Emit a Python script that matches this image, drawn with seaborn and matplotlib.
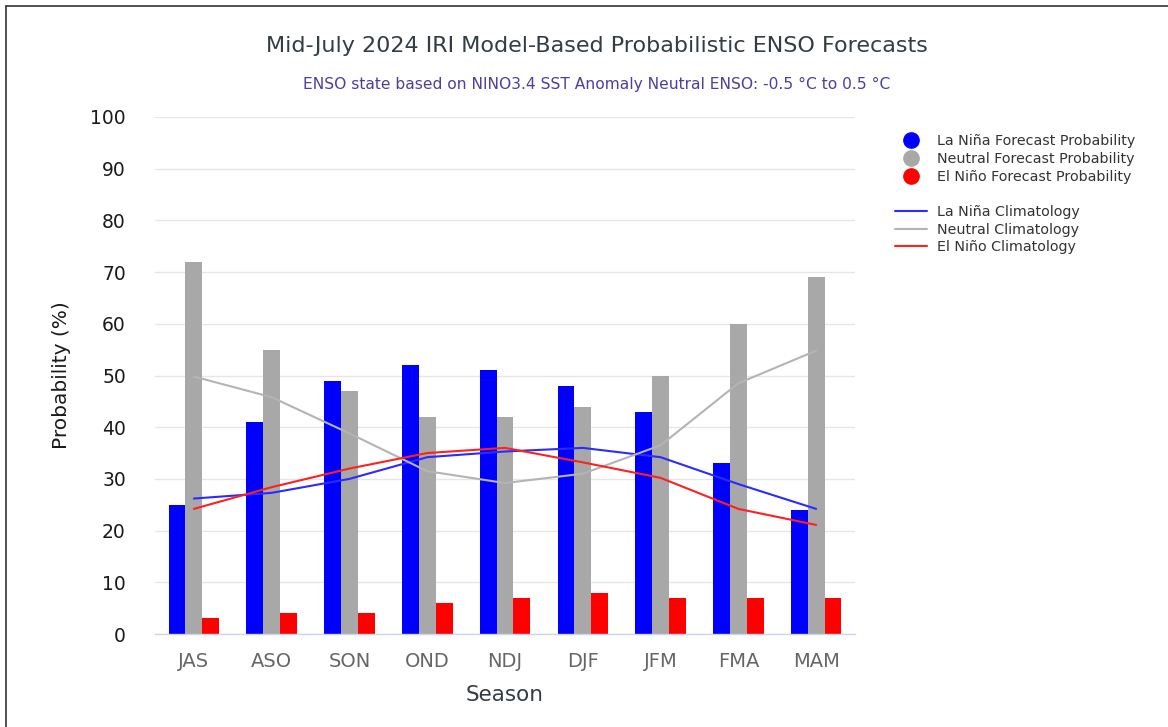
"""Mid-July 2024 IRI ENSO probabilistic forecast chart."""

import matplotlib
matplotlib.use("Agg")
import matplotlib.pyplot as plt
from matplotlib.lines import Line2D
import numpy as np
import pandas as pd
import seaborn as sns

seasons = ["JAS", "ASO", "SON", "OND", "NDJ", "DJF", "JFM", "FMA", "MAM"]
la_nina_prob = [25, 41, 49, 52, 51, 48, 43, 33, 24]
neutral_prob = [72, 55, 47, 42, 42, 44, 50, 60, 69]
el_nino_prob = [3, 4, 4, 6, 7, 8, 7, 7, 7]

la_nina_clim = [26.2, 27.3, 30.0, 34.2, 35.3, 36.0, 34.2, 29.0, 24.2]
neutral_clim = [49.8, 45.8, 38.8, 31.5, 29.2, 31.0, 36.5, 48.5, 54.8]
el_nino_clim = [24.2, 28.4, 32.0, 35.0, 36.0, 33.2, 30.2, 24.2, 21.1]

prob_names = ["La Niña Forecast Probability", "Neutral Forecast Probability", "El Niño Forecast Probability"]
clim_names = ["La Niña Climatology", "Neutral Climatology", "El Niño Climatology"]
bar_colors = ["#0000ff", "#a8a8a8", "#ff0000"]
line_colors = ["#2b2bff", "#b4b4b4", "#ff2020"]

bars = pd.DataFrame({
    "season": seasons * 3,
    "state": np.repeat(prob_names, len(seasons)),
    "prob": la_nina_prob + neutral_prob + el_nino_prob,
})

sns.set_style("white")
plt.rcParams["font.family"] = ["DejaVu Sans"]

fig = plt.figure(figsize=(11.68, 7.27), dpi=100)
ax = fig.add_axes([155 / 1168, 1 - 634 / 727, 700 / 1168, 517 / 727])

sns.barplot(data=bars, x="season", y="prob", hue="state", order=seasons, hue_order=prob_names,
            palette=bar_colors, saturation=1, width=0.65, linewidth=0, legend=False, ax=ax, zorder=2)

pos = np.arange(len(seasons))
for values, color in zip([la_nina_clim, neutral_clim, el_nino_clim], line_colors):
    sns.lineplot(x=pos, y=values, color=color, linewidth=1.5, ax=ax, zorder=3)

ax.set_xlim(-0.5, len(seasons) - 0.5)
ax.set_ylim(0, 100)
ax.set_yticks(range(0, 101, 10))
ax.grid(axis="y", color="#e6e6e6", linewidth=1)
ax.set_axisbelow(True)
for side in ["left", "right", "top"]:
    ax.spines[side].set_visible(False)
ax.spines["bottom"].set_color("#ccd6eb")
ax.spines["bottom"].set_linewidth(1)
ax.tick_params(axis="y", length=0, pad=21, labelsize=13.5, labelcolor="#1a1a1a")
ax.tick_params(axis="x", length=0, pad=13, labelsize=14, labelcolor="#666666")
ax.set_xlabel("Season", fontsize=15.5, color="#333d44", labelpad=10)
ax.set_ylabel("Probability (%)", fontsize=14.5, color="#1a1a1a", labelpad=14)

fig.text(0.511, 1 - 46 / 727, "Mid-July 2024 IRI Model-Based Probabilistic ENSO Forecasts",
         ha="center", va="center", fontsize=16, color="#333d44")
fig.text(0.511, 1 - 84 / 727, "ENSO state based on NINO3.4 SST Anomaly Neutral ENSO: -0.5 °C to 0.5 °C",
         ha="center", va="center", fontsize=11.2, color="#4d3f9e")

handles = [Line2D([], [], marker="o", linestyle="none", markersize=11, color=c) for c in bar_colors]
handles.append(Line2D([], [], linestyle="none"))
handles += [Line2D([], [], color=c, linewidth=1.5) for c in line_colors]
labels = prob_names + [""] + clim_names
fig.legend(handles, labels, loc="upper left", bbox_to_anchor=(888 / 1168, 1 - 127 / 727),
           frameon=False, fontsize=10.3, labelspacing=0.26, handlelength=2.2, handletextpad=0.7,
           borderpad=0, labelcolor="#333333")

fig.add_artist(Line2D([6 / 1168, 1], [1 - 6 / 727, 1 - 6 / 727], color="#333333", linewidth=1.2))
fig.add_artist(Line2D([6 / 1168, 6 / 1168], [0, 1 - 6 / 727], color="#333333", linewidth=1.2))

fig.savefig("out.png", dpi=100)
plt.close(fig)
